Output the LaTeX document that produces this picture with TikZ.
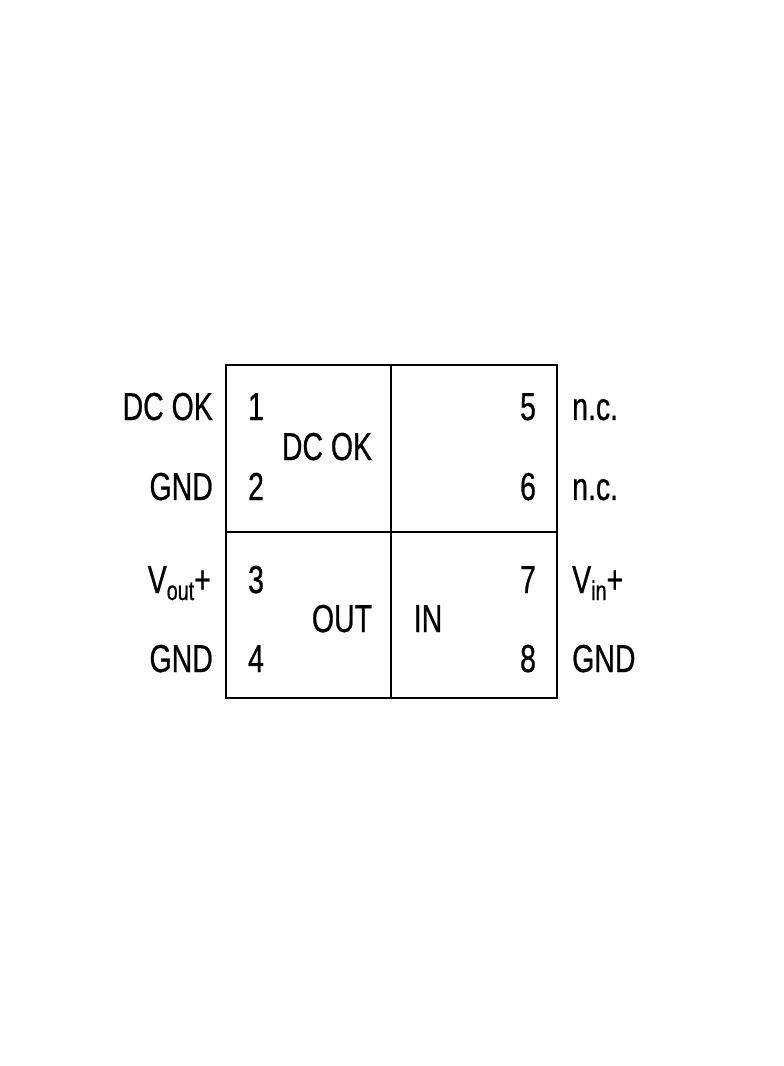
\documentclass[tikz,border=0pt]{standalone}
\usepackage{fontspec}
\setmainfont[FakeStretch=0.73,FakeBold=0.6]{Liberation Sans}
\usepackage{tikz}

\tikzset{
  pinno/.style={anchor=base,inner sep=0pt,font=\fontsize{39}{45}\selectfont},
  leftlbl/.style={anchor=base east,inner sep=0pt,font=\fontsize{39}{45}\selectfont},
  rightlbl/.style={anchor=base west,inner sep=0pt,font=\fontsize{39}{45}\selectfont},
  blocklbl/.style={anchor=base,inner sep=0pt,font=\fontsize{39}{45}\selectfont}
}
\newcommand{\subtxt}[1]{{\fontsize{27}{27}\selectfont\raisebox{-7pt}{#1}}}

\begin{document}
\begin{tikzpicture}[x=1pt,y=-1pt]
\useasboundingbox (0,0) rectangle (784,1066);
% housing
\draw[line width=2.6pt] (226,365) rectangle (557,698);
\draw[line width=2.6pt] (391,365) -- (391,698);
\draw[line width=2.6pt] (226,532) -- (557,532);

% pin numbers
\node[pinno] (p1) at (256,420) {1};
\node[pinno] (p2) at (256,500) {2};
\node[pinno] (p3) at (256,593) {3};
\node[pinno] (p4) at (256,672) {4};
\node[pinno] (p5) at (528,420) {5};
\node[pinno] (p6) at (528,500) {6};
\node[pinno] (p7) at (528,593) {7};
\node[pinno] (p8) at (528,672) {8};

% signal names, left
\node[leftlbl] (dcok) at (213,420) {DC OK};
\node[leftlbl] (gnda) at (213,500) {GND};
\node[leftlbl] (vout) at (211,593) {V\subtxt{out}+};
\node[leftlbl] (gndb) at (213,672) {GND};

% signal names, right
\node[rightlbl] (nca) at (572,420) {n.c.};
\node[rightlbl] (ncb) at (572,500) {n.c.};
\node[rightlbl] (vin) at (572,593) {V\subtxt{in}+};
\node[rightlbl] (gndc) at (572,672) {GND};

% blocks
\node[blocklbl] (blkdc) at (327,460) {DC OK};
\node[blocklbl] (blkout) at (342,632) {OUT};
\node[blocklbl] (blkin) at (428,632) {IN};
\end{tikzpicture}
\end{document}
